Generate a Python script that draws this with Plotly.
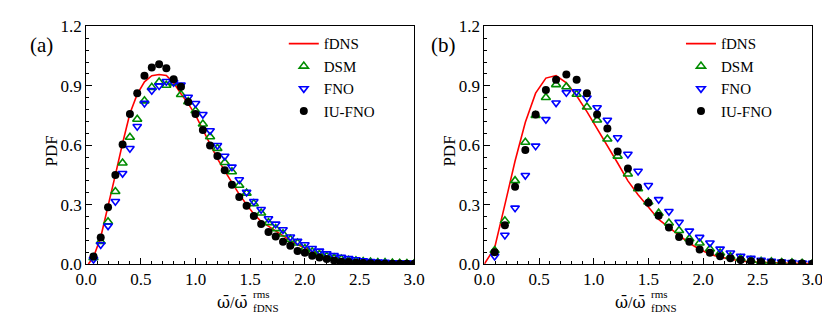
import plotly.graph_objects as go

W, H = 830, 313

# ---------------- Data: panel (a) ----------------
x_a = [0.067, 0.133, 0.200, 0.267, 0.333, 0.400, 0.467, 0.533, 0.600, 0.667,
       0.733, 0.800, 0.867, 0.933, 1.000, 1.067, 1.133, 1.200, 1.267, 1.333,
       1.400, 1.467, 1.533, 1.600, 1.667, 1.733, 1.800, 1.867, 1.933, 2.000,
       2.067, 2.133, 2.200, 2.267, 2.333, 2.400, 2.467, 2.533, 2.600, 2.667,
       2.733, 2.800, 2.867, 2.933, 3.000]
fdns_x_a = [0.02] + x_a
fdns_a = [0.0, 0.035, 0.135, 0.285, 0.45, 0.61, 0.76, 0.858, 0.92, 0.951, 0.957,
          0.952, 0.915, 0.86, 0.81, 0.752, 0.68, 0.602, 0.532, 0.47, 0.41,
          0.352, 0.30, 0.253, 0.215, 0.19, 0.165, 0.14, 0.118, 0.098, 0.08,
          0.063, 0.05, 0.039, 0.029, 0.022, 0.016, 0.012, 0.009, 0.007, 0.005,
          0.004, 0.003, 0.002, 0.002, 0.001]
dsm_a = [0.032, 0.114, 0.213, 0.366, 0.51, 0.64, 0.731, 0.824, 0.892, 0.919,
         0.903, 0.915, 0.856, 0.82, 0.774, 0.707, 0.643, 0.584, 0.513, 0.466,
         0.398, 0.358, 0.305, 0.258, 0.209, 0.179, 0.152, 0.125, 0.106, 0.078,
         0.062, 0.049, 0.039, 0.032, 0.025, 0.019, 0.016, 0.013, 0.010, 0.008,
         0.007, 0.005, 0.004, 0.003, 0.003]
fno_a = [0.024, 0.098, 0.193, 0.316, 0.458, 0.584, 0.695, 0.812, 0.876, 0.90,
         0.922, 0.917, 0.905, 0.843, 0.811, 0.756, 0.674, 0.599, 0.545, 0.49,
         0.426, 0.363, 0.316, 0.276, 0.229, 0.202, 0.174, 0.137, 0.115, 0.098,
         0.079, 0.066, 0.052, 0.043, 0.035, 0.028, 0.022, 0.017, 0.013, 0.011,
         0.009, 0.007, 0.006, 0.005, 0.004]
iufno_a = [0.038, 0.134, 0.287, 0.45, 0.603, 0.758, 0.862, 0.951, 0.992, 1.009,
           0.988, 0.933, 0.895, 0.818, 0.758, 0.677, 0.598, 0.545, 0.474, 0.40,
           0.338, 0.294, 0.243, 0.202, 0.162, 0.139, 0.113, 0.092, 0.066, 0.057,
           0.042, 0.033, 0.025, 0.018, 0.012, 0.010, 0.007, 0.005, 0.004, 0.003,
           0.002, 0.002, 0.001, 0.001, 0.001]

# ---------------- Data: panel (b) ----------------
x_b = [0.094, 0.188, 0.281, 0.375, 0.469, 0.563, 0.656, 0.750, 0.844, 0.938,
       1.031, 1.125, 1.219, 1.313, 1.406, 1.500, 1.594, 1.688, 1.781, 1.875,
       1.969, 2.063, 2.156, 2.250, 2.344, 2.438, 2.531, 2.625, 2.719, 2.813,
       2.906, 3.000]
fdns_x_b = [0.0] + x_b
fdns_b = [0.0, 0.081, 0.30, 0.52, 0.716, 0.863, 0.939, 0.952, 0.915, 0.85, 0.77,
          0.685, 0.595, 0.51, 0.42, 0.35, 0.288, 0.225, 0.185, 0.145, 0.105,
          0.075, 0.05, 0.035, 0.024, 0.015, 0.011, 0.008, 0.006, 0.005, 0.004,
          0.003, 0.002]
dsm_b = [0.068, 0.218, 0.421, 0.615, 0.75, 0.841, 0.906, 0.895, 0.857, 0.793,
         0.727, 0.631, 0.545, 0.455, 0.38, 0.313, 0.257, 0.207, 0.169, 0.128,
         0.106, 0.076, 0.056, 0.038, 0.028, 0.019, 0.014, 0.011, 0.008, 0.006,
         0.004, 0.003]
fno_b = [0.04, 0.146, 0.283, 0.448, 0.596, 0.73, 0.814, 0.866, 0.87, 0.839,
         0.79, 0.727, 0.638, 0.555, 0.469, 0.397, 0.326, 0.266, 0.211, 0.167,
         0.135, 0.107, 0.076, 0.056, 0.04, 0.029, 0.019, 0.014, 0.011, 0.008,
         0.006, 0.004]
iufno_b = [0.059, 0.196, 0.39, 0.576, 0.755, 0.879, 0.93, 0.957, 0.93, 0.862,
           0.755, 0.684, 0.568, 0.482, 0.388, 0.31, 0.244, 0.184, 0.136, 0.112,
           0.073, 0.057, 0.039, 0.029, 0.020, 0.014, 0.010, 0.008, 0.006, 0.004,
           0.003, 0.002]

x_ticks = [0.0, 0.5, 1.0, 1.5, 2.0, 2.5, 3.0]
y_ticks = [0.0, 0.3, 0.6, 0.9, 1.2]
series_names = ["fDNS", "DSM", "FNO", "IU-FNO"]
panel_labels = ["(a)", "(b)"]

FONT = "Liberation Serif"
RED, GREEN, BLUE, BLACK = "#ff0000", "#008c00", "#0000ff", "#000000"


def px(x):
    return x / W


def py(y):
    return 1 - y / H


fig = go.Figure()

panels = [
    ("x", "y", "legend", fdns_x_a, fdns_a, x_a, dsm_a, fno_a, iufno_a),
    ("x2", "y2", "legend2", fdns_x_b, fdns_b, x_b, dsm_b, fno_b, iufno_b),
]
for xa, ya, lg, fx, fy, xs, d, f, iu in panels:
    fig.add_trace(go.Scatter(x=fx, y=fy, mode="lines", name=series_names[0],
                             line=dict(color=RED, width=1.6), xaxis=xa, yaxis=ya, legend=lg))
    fig.add_trace(go.Scatter(x=xs, y=d, mode="markers", name=series_names[1],
                             marker=dict(symbol="triangle-up-open", size=8, color=GREEN,
                                         line=dict(width=1.6, color=GREEN)),
                             xaxis=xa, yaxis=ya, legend=lg))
    fig.add_trace(go.Scatter(x=xs, y=f, mode="markers", name=series_names[2],
                             marker=dict(symbol="triangle-down-open", size=7.5, color=BLUE,
                                         line=dict(width=1.6, color=BLUE)),
                             xaxis=xa, yaxis=ya, legend=lg))
    fig.add_trace(go.Scatter(x=xs, y=iu, mode="markers", name=series_names[3],
                             marker=dict(symbol="circle", size=8, color=BLACK),
                             xaxis=xa, yaxis=ya, legend=lg))

xa_dom = [px(69), px(406)]
xb_dom = [px(478), px(815)]
y_dom = [py(263), py(10)]

axis_common = dict(
    showline=True, linecolor="black", linewidth=1, mirror=True,
    ticks="inside", ticklen=6, tickwidth=1, tickcolor="black",
    showgrid=False, zeroline=False,
    tickfont=dict(family=FONT, size=17, color="black"),
    tickformat=".1f",
)
xaxis_common = dict(axis_common, range=[0, 3], tickvals=x_ticks,
                    minor=dict(ticks="inside", ticklen=3, dtick=0.1, tickcolor="black", showgrid=False))
yaxis_common = dict(axis_common, range=[0, 1.2], tickvals=y_ticks,
                    minor=dict(ticks="inside", ticklen=3, dtick=0.06, tickcolor="black", showgrid=False))

fig.update_layout(
    width=W, height=H,
    margin=dict(l=0, r=0, t=0, b=0),
    paper_bgcolor="white", plot_bgcolor="white",
    font=dict(family=FONT, size=16, color="black"),
    xaxis=dict(xaxis_common, domain=xa_dom, anchor="y"),
    yaxis=dict(yaxis_common, domain=y_dom, anchor="x"),
    xaxis2=dict(xaxis_common, domain=xb_dom, anchor="y2"),
    yaxis2=dict(yaxis_common, domain=y_dom, anchor="x2"),
    legend=dict(x=px(272), y=py(11), xanchor="left", yanchor="top",
                bgcolor="rgba(0,0,0,0)", font=dict(family=FONT, size=15),
                tracegroupgap=0, itemwidth=30),
    legend2=dict(x=px(680), y=py(11), xanchor="left", yanchor="top",
                 bgcolor="rgba(0,0,0,0)", font=dict(family=FONT, size=15),
                 tracegroupgap=0, itemwidth=30),
    showlegend=True,
)

OMEGA_BAR = "<span style='font-family:DejaVu Serif'>ω\u0304</span>"
ann = []
for i, (xl, xc) in enumerate([(23, 237.5), (436, 646.5)]):
    ann.append(dict(text=panel_labels[i], x=px(xl), y=py(30), xref="paper", yref="paper",
                    showarrow=False, font=dict(family=FONT, size=21), xanchor="center", yanchor="middle"))
    # x-axis title ω̄/ω̄ with stacked rms / fDNS
    ann.append(dict(text=OMEGA_BAR + "/" + OMEGA_BAR, x=px(xc), y=py(304), xref="paper", yref="paper",
                    showarrow=False, font=dict(family=FONT, size=16), xanchor="right", yanchor="middle"))
    ann.append(dict(text="rms<br>fDNS", x=px(xc + 0.5), y=py(302), xref="paper", yref="paper",
                    showarrow=False, font=dict(family=FONT, size=11), align="left",
                    xanchor="left", yanchor="middle"))
for xc in [33, 442]:
    ann.append(dict(text="PDF", x=px(xc), y=py(143), xref="paper", yref="paper",
                    showarrow=False, textangle=-90, font=dict(family=FONT, size=17),
                    xanchor="center", yanchor="middle"))
fig.update_layout(annotations=ann)

fig.write_html("out.html")
